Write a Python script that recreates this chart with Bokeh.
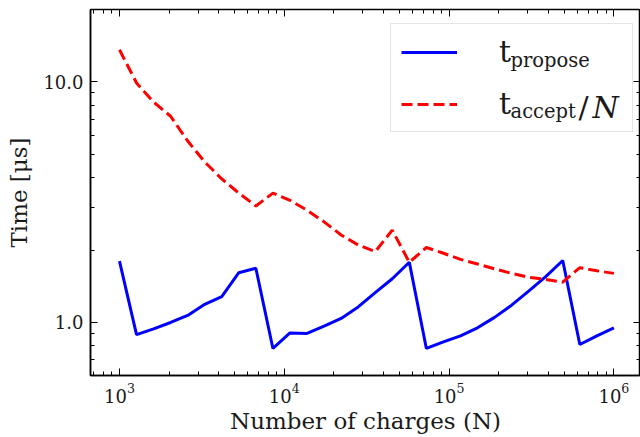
from bokeh.plotting import figure
from bokeh.models import LogAxis, FixedTicker, Legend, LegendItem, Label, Range1d
from bokeh.embed import file_html
from bokeh.resources import INLINE

# Number of charges N
n_charges = [1000, 1269, 1610, 2043, 2593, 3290, 4175, 5298, 6723, 8532,
             10826, 13738, 17433, 22122, 28072, 35622, 45204, 57362, 72790, 92367,
             117210, 148735, 188739, 239503, 303920, 385662, 489390, 621017, 788046, 1000000]
# t_propose [us]
t_propose = [1.80, 0.89, 0.94, 1.00, 1.07, 1.19, 1.28, 1.61, 1.68, 0.78,
             0.905, 0.90, 0.965, 1.04, 1.16, 1.33, 1.52, 1.78, 0.78, 0.83,
             0.88, 0.95, 1.05, 1.18, 1.35, 1.55, 1.81, 0.81, 0.88, 0.95]
# t_accept / N [us]
t_accept_per_n = [13.6, 9.9, 8.25, 7.2, 5.68, 4.65, 3.95, 3.45, 3.05, 3.45,
                  3.22, 2.93, 2.62, 2.31, 2.10, 1.97, 2.42, 1.78, 2.05, 1.94,
                  1.83, 1.75, 1.67, 1.60, 1.54, 1.51, 1.47, 1.69, 1.64, 1.60]

x_major = [1e3, 1e4, 1e5, 1e6]
x_minor = [m * 10 ** e for e in range(2, 7) for m in range(2, 10)]
y_major = [1.0, 10.0]
y_minor = [0.6, 0.7, 0.8, 0.9, 2, 3, 4, 5, 6, 7, 8, 9, 20]
y_labels = {1.0: "1.0", 10.0: "10.0"}

FONT = "DejaVu Serif"
TXT = "#1a1a1a"

# frame placement (page px): left 90, top 9, bottom 375, right 640
FL, FT, FB = 90, 9, 375
W, H = 640, 437

p = figure(width=W, height=H, x_axis_type="log", y_axis_type="log",
           x_range=Range1d(667, 1.45e6), y_range=Range1d(0.602, 20.0),
           output_backend="svg", toolbar_location=None,
           min_border_left=FL, min_border_right=0, min_border_top=FT,
           min_border_bottom=H - FB)
p.grid.visible = False
p.outline_line_color = "black"
p.outline_line_width = 1.5
p.background_fill_color = "white"
p.border_fill_color = "white"

xt = FixedTicker(ticks=x_major, minor_ticks=x_minor)
yt = FixedTicker(ticks=y_major, minor_ticks=y_minor)
p.xaxis.ticker = xt
p.yaxis.ticker = yt
p.yaxis.major_label_overrides = y_labels

def style_axis(ax):
    ax.major_tick_in = 7
    ax.major_tick_out = 0
    ax.minor_tick_in = 4
    ax.minor_tick_out = 0
    ax.axis_line_width = 1.5
    ax.major_tick_line_width = 1
    ax.minor_tick_line_width = 1

for ax in (p.xaxis[0], p.yaxis[0]):
    style_axis(ax)
    ax.major_label_text_font = FONT
    ax.major_label_text_font_size = "18px"
    ax.major_label_text_color = TXT
    ax.major_label_standoff = 7
    ax.axis_label_text_font = FONT
    ax.axis_label_text_font_size = "23px"
    ax.axis_label_text_font_style = "normal"
    ax.axis_label_text_color = TXT

p.xaxis.axis_label = "Number of charges (N)"
p.yaxis.axis_label = "Time [μs]"
p.xaxis.axis_label_standoff = 2
p.yaxis.axis_label_standoff = 8

for loc, tk in (("above", xt), ("right", yt)):
    ax = LogAxis(ticker=tk)
    style_axis(ax)
    ax.axis_line_color = None
    ax.major_label_text_font_size = "1px"
    ax.major_label_text_alpha = 0
    ax.major_label_standoff = 0
    p.add_layout(ax, loc)

r_blue = p.line(n_charges, t_propose, line_color="#0000ff", line_width=3)
r_red = p.line(n_charges, t_accept_per_n, line_color="#ff0000", line_width=3, line_dash="11 5")

# legend box: page left 390, bottom 132
legend = Legend(items=[LegendItem(label="t", renderers=[r_blue]),
                       LegendItem(label="t", renderers=[r_red])],
                location=(390 - FL, FB - 132), padding=10, spacing=17,
                glyph_width=56, glyph_height=28, label_height=28,
                label_width=123, label_standoff=42,
                label_text_font=FONT, label_text_font_size="30px", label_text_color=TXT,
                border_line_color="#cccccc", border_line_width=1.5,
                background_fill_color="white", background_fill_alpha=0.0)
p.add_layout(legend, "center")

def page_label(text, px, py, size, style="normal"):
    # px, py: page pixel position of the text baseline start
    lab = Label(x=px - FL, y=FB - py, x_units="screen", y_units="screen",
                text=text, text_font=FONT, text_font_size=size, text_color=TXT,
                text_font_style=style, text_baseline="alphabetic", text_align="left",
                level="overlay")
    p.add_layout(lab)

page_label("propose", 510, 60, "19.5px")
page_label("accept", 510, 111, "19.5px")
page_label("/", 578, 107, "30px")
page_label("N", 592, 107, "30px", "italic")

open("out.html", "w").write(file_html(p, INLINE))
